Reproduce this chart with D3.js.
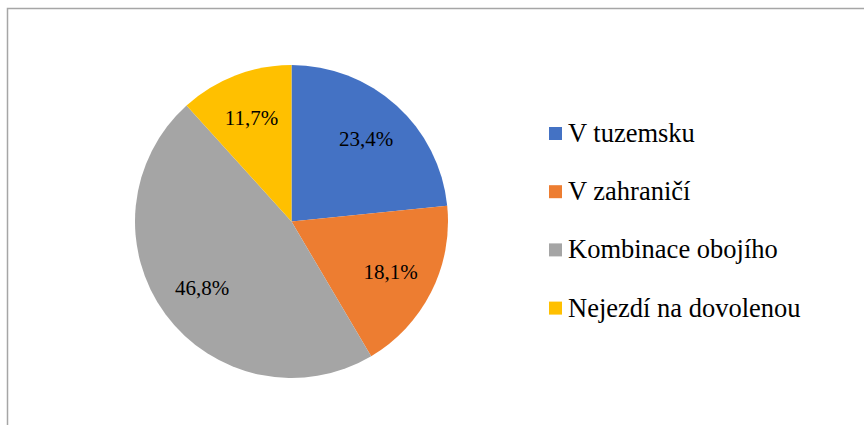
<!DOCTYPE html>
<html>
<head>
<meta charset="utf-8">
<script src="https://cdn.jsdelivr.net/npm/d3@7"></script>
<style>
  html, body { margin: 0; padding: 0; background: #fff; }
  svg { display: block; }
</style>
</head>
<body>
<svg id="chart" width="864" height="425"></svg>
<script>
const categories = ["V tuzemsku", "V zahraničí", "Kombinace obojího", "Nejezdí na dovolenou"];
const values = [23.4, 18.1, 46.8, 11.7];
const valueLabels = ["23,4%", "18,1%", "46,8%", "11,7%"];
const colors = ["#4472C4", "#ED7D31", "#A5A5A5", "#FFC000"];

const FONT = "Liberation Serif";
const svg = d3.select("#chart");

// frame (extends beyond right/bottom of the view)
svg.append("rect")
  .attr("x", 7.5).attr("y", 8.5)
  .attr("width", 900).attr("height", 500)
  .attr("fill", "#fff")
  .attr("stroke", "#a6a6a6")
  .attr("stroke-width", 1.5);

const cx = 291.5, cy = 221.5, R = 156.5;
const g = svg.append("g").attr("transform", `translate(${cx},${cy})`);

const data = categories.map((c, i) => ({ name: c, value: values[i], label: valueLabels[i], color: colors[i] }));
const pie = d3.pie().sort(null).value(d => d.value);
const arcs = pie(data);
const arc = d3.arc().innerRadius(0).outerRadius(R);
const labelArc = d3.arc().innerRadius(R * 0.71).outerRadius(R * 0.71);

g.selectAll("path.slice").data(arcs).enter().append("path")
  .attr("class", "slice")
  .attr("d", arc)
  .attr("fill", d => d.data.color);

g.selectAll("text.lbl").data(arcs).enter().append("text")
  .attr("class", "lbl")
  .attr("x", d => labelArc.centroid(d)[0])
  .attr("y", d => labelArc.centroid(d)[1])
  .attr("text-anchor", "middle")
  .attr("dy", "0.35em")
  .attr("font-family", FONT)
  .style("font-family", FONT)
  .style("font-size", "21px")
  .attr("fill", "#000")
  .text(d => d.data.label);

// legend
const legendX = 549, legendY0 = 142, legendStep = 58.2;
const legend = svg.append("g");
legend.selectAll("rect.sw").data(data).enter().append("rect")
  .attr("class", "sw")
  .attr("x", legendX)
  .attr("y", (d, i) => legendY0 + i * legendStep - 15)
  .attr("width", 13).attr("height", 13)
  .attr("fill", d => d.color);
legend.selectAll("text.lg").data(data).enter().append("text")
  .attr("class", "lg")
  .attr("x", legendX + 19)
  .attr("y", (d, i) => legendY0 + i * legendStep)
  .attr("font-family", FONT)
  .style("font-family", FONT)
  .style("font-size", "26.5px")
  .attr("fill", "#000")
  .text(d => d.name);
</script>
</body>
</html>
